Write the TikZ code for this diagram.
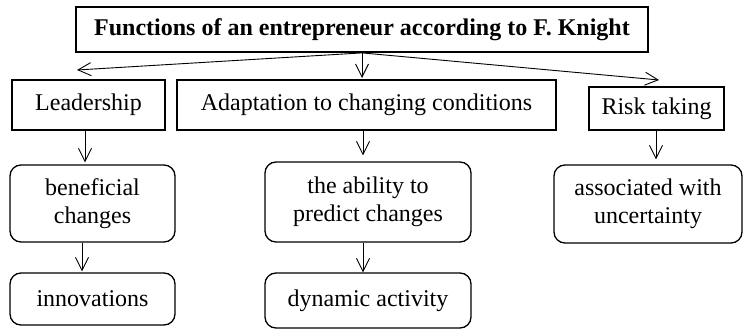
\documentclass[tikz,border=0pt]{standalone}
\usepackage{fontspec}
\setmainfont{Liberation Serif}
\usetikzlibrary{arrows.meta}
\begin{document}
\begin{tikzpicture}[x=1pt,y=-1pt,
  box/.style={draw,line width=1.3pt,inner sep=0pt,align=center,font=\fontsize{24}{28}\selectfont},
  rbox/.style={box,rounded corners=11pt},
  conn/.style={line width=0.9pt,-{Straight Barb[length=13pt,width=13pt,line width=0.9pt]}}]
\useasboundingbox (0,0) rectangle (748,329);
\node[box,line width=1.8pt,minimum width=572pt,minimum height=45pt,font=\fontsize{24}{28}\selectfont\bfseries] (title) at (362,29.5) {Functions of an entrepreneur according to F. Knight};
\node[box,minimum width=153pt,minimum height=50pt] (lead) at (88.5,105) {Leadership};
\node[box,minimum width=379pt,minimum height=50pt] (adapt) at (366.5,105) {Adaptation to changing conditions};
\node[box,minimum width=135pt,minimum height=43pt] (risk) at (656.5,108.5) {Risk taking};
\node[rbox,minimum width=165pt,minimum height=77pt] (benef) at (92.5,203.5) {beneficial\\changes};
\node[rbox,minimum width=206pt,minimum height=80pt] (abil) at (368,202) {the ability to\\predict changes};
\node[rbox,minimum width=188pt,minimum height=78pt] (assoc) at (648,204) {associated with\\uncertainty};
\node[rbox,minimum width=165pt,minimum height=52pt] (innov) at (92.5,299) {innovations};
\node[rbox,minimum width=206pt,minimum height=55pt] (dyn) at (368,300.5) {dynamic activity};
\coordinate (hub) at (362,52);
\coordinate (tl) at (77,70);
\coordinate (tm) at (362,78);
\coordinate (tr) at (659,80);
\draw[conn] (title.south -| hub) -- (tl);
\draw[conn] (title.south -| hub) -- (tm);
\draw[conn] (title.south -| hub) -- (tr);
\draw[conn,shorten >=2pt] (lead.south -| 85,0) -- (benef.north -| 85,0);
\draw[conn,shorten >=6pt] (adapt.south -| 363,0) -- (abil.north -| 363,0);
\draw[conn,shorten >=5pt] (risk.south -| 656,0) -- (assoc.north -| 656,0);
\draw[conn,shorten >=1pt] (benef.south -| 82,0) -- (innov.north -| 82,0);
\draw[conn] (abil.south -| 363,0) -- (dyn.north -| 363,0);
\end{tikzpicture}
\end{document}
